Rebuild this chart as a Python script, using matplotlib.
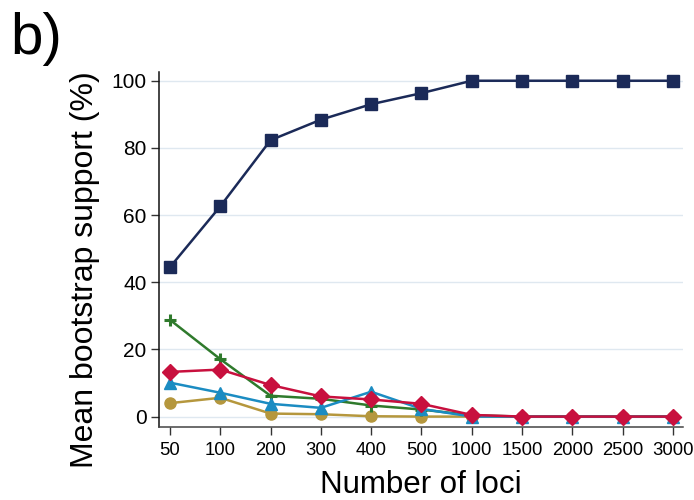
import matplotlib
matplotlib.use("Agg")
import matplotlib.pyplot as plt

plt.rcParams['font.family'] = ['Liberation Sans', 'DejaVu Sans']

loci = ["50", "100", "200", "300", "400", "500", "1000", "1500", "2000", "2500", "3000"]
navy_vals = [44.5, 62.6, 82.3, 88.4, 93.0, 96.3, 100, 100, 100, 100, 100]
gold_vals = [4.0, 5.6, 0.9, 0.7, 0.1, 0.0, 0.0, 0.0, 0.0, 0.0, 0.0]
green_vals = [28.8, 17.1, 6.2, 5.3, 3.3, 2.1, 0.4, 0.0, 0.0, 0.0, 0.0]
blue_vals = [10.1, 7.1, 3.8, 2.6, 7.4, 2.3, 0.0, 0.0, 0.0, 0.0, 0.0]
red_vals = [13.3, 14.0, 9.4, 6.0, 5.1, 3.8, 0.5, 0.0, 0.0, 0.0, 0.0]
yticks = [0, 20, 40, 60, 80, 100]

x = list(range(len(loci)))

fig = plt.figure(figsize=(6.94, 5.0), dpi=100)
ax = fig.add_axes([0.229, 0.146, 0.755, 0.710])

for y in yticks:
    ax.axhline(y, color='#dfe8f0', lw=1.0, zorder=0)

ax.plot(x, navy_vals, color='#1b2a58', lw=1.8, marker='s', ms=9, zorder=3)
ax.plot(x, gold_vals, color='#b5973d', lw=1.8, marker='o', ms=8, zorder=3)
ax.plot(x, green_vals, color='#2f7a2c', lw=1.8, marker='+', ms=9, mew=2.2, zorder=3)
ax.plot(x, blue_vals, color='#1b8cc2', lw=1.8, marker='^', ms=9, zorder=4)
ax.plot(x, red_vals, color='#c8103e', lw=1.8, marker='D', ms=8.5, zorder=5)

ax.set_xlim(-0.22, 10.2)
ax.set_ylim(-3.1, 102.6)
ax.set_xticks(x)
ax.set_xticklabels(loci, fontsize=13.3)
ax.set_yticks(yticks)
ax.set_yticklabels([str(v) for v in yticks], fontsize=15)
ax.tick_params(axis='both', direction='out', length=6, width=1, color='#333333')
ax.tick_params(axis='x', pad=5)
ax.tick_params(axis='y', pad=3)

for side in ['top', 'right']:
    ax.spines[side].set_visible(False)
ax.spines['left'].set_color('#111111')
ax.spines['bottom'].set_color('#444444')
ax.spines['left'].set_linewidth(1.1)
ax.spines['bottom'].set_linewidth(1.1)

ax.set_xlabel('Number of loci', fontsize=22.5, va='baseline')
ax.xaxis.set_label_coords(0.5, -0.185)
ax.set_ylabel('Mean bootstrap support (%)', fontsize=23)
ax.yaxis.set_label_coords(-0.113, 0.442)

fig.text(0.015, 0.975, 'b)', fontsize=42, va='top', ha='left')

fig.savefig('out.png', dpi=100)
